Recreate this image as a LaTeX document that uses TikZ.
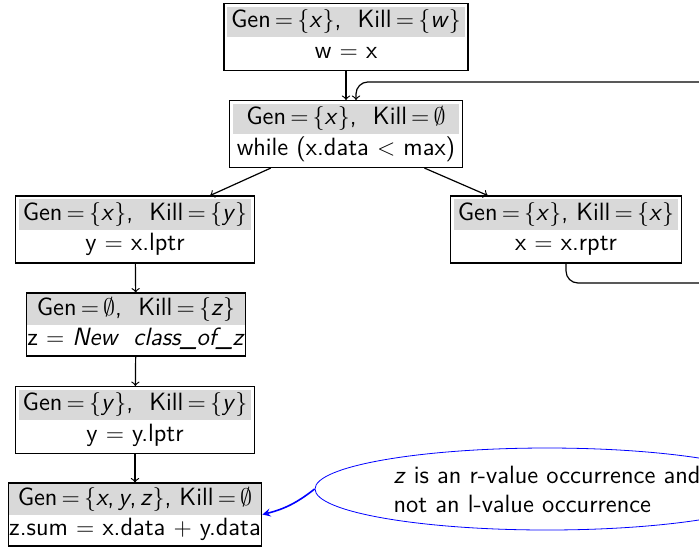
\documentclass[tikz,border=0pt]{standalone}
\usepackage{amsmath}
\usepackage{amssymb}
\usepackage{colortbl}
\usetikzlibrary{shapes.geometric,calc}

\definecolor{hdgray}{gray}{0.85}
\setlength{\tabcolsep}{2pt}
\renewcommand{\arraystretch}{1.05}
% two rows: gen/kill sets on gray, statement below
\newcommand{\gkbox}[2]{\begin{tabular}{c}\rowcolor{hdgray}#1\\#2\end{tabular}}
% a set of variables, sans italic
\newcommand{\vset}[1]{$\{$\textit{#1}$\}$}
\newcommand{\eqs}{\,$=$\,}

\begin{document}
\begin{tikzpicture}[x=0.5pt,y=0.5pt,yscale=-1,xscale=1,
  flowbox/.style={draw,semithick,rectangle,inner sep=1.5pt,font=\sffamily\fontsize{12.5}{14.5}\selectfont},
  notebox/.style={draw=blue,ellipse,inner sep=0pt,minimum width=232pt,minimum height=41pt,
    align=left,font=\sffamily\fontsize{12.5}{14.5}\selectfont},
  flow/.style={->,semithick},
  ]
\clip (0,0) rectangle (699,546);

% Text Node
\node[flowbox] (A) at (346,37) {\gkbox{Gen\eqs\vset{x},\ \ Kill\eqs\vset{w}}{w $=$ x}};
% Text Node
\node[flowbox] (B) at (346,134) {\gkbox{Gen\eqs\vset{x},\ \ Kill\eqs$\emptyset$}{while (x.data $<$ max)}};
% Text Node
\node[flowbox] (C) at (135,229.5) {\gkbox{Gen\eqs\vset{x},\ \ Kill\eqs\vset{y}}{y $=$ x.lptr}};
% Text Node
\node[flowbox] (D) at (566,229.5) {\gkbox{Gen\eqs\vset{x}, Kill\eqs\vset{x}}{x $=$ x.rptr}};
% Text Node
\node[flowbox,inner sep=0.5pt] (E) at (136,324.5) {\gkbox{Gen\eqs$\emptyset$,\ \ Kill\eqs\vset{z}}{\hspace*{-2pt}z $=$ \textit{New \ class\_of\_z}\hspace*{-2pt}}};
% Text Node
\node[flowbox] (F) at (135,420) {\gkbox{Gen\eqs\vset{y},\ \ Kill\eqs\vset{y}}{y $=$ y.lptr}};
% Text Node
\node[flowbox,inner sep=0.5pt] (G) at (135,514.5) {\gkbox{Gen\eqs$\{$\textit{x},\,\textit{y},\,\textit{z}$\}$, Kill\eqs$\emptyset$}{\hspace*{-2pt}z.sum $=$ x.data $+$ y.data\hspace*{-2pt}}};

% Shape: Ellipse
\node[notebox] (N) at (547,489) {\textit{z} is an r-value occurrence and\\not an l-value occurrence};

% loop corners
\coordinate (loopBR) at (712,283);

\draw[flow] (A) -- (B);
\draw[flow] (B) -- (C);
\draw[flow] (B) -- (D);
\draw[flow] (C) -- (E);
\draw[flow] (E) -- (F);
\draw[flow] (F) -- (G);
\draw[flow,rounded corners=6] (D.south) |- (loopBR) |- ($(B.north)+(10,-18)$) -- ($(B.north)+(10,0)$);
\draw[blue,thick,-stealth] (N.west) to[bend right=12] (G.east);
\end{tikzpicture}
\end{document}
